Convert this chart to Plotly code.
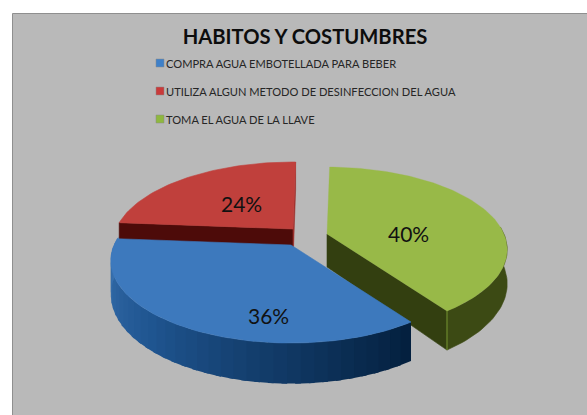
import math
import plotly.graph_objects as go

# Survey results
title = "HABITOS Y COSTUMBRES"
categories = [
    "COMPRA AGUA EMBOTELLADA PARA BEBER",
    "UTILIZA ALGUN METODO DE DESINFECCION DEL AGUA",
    "TOMA EL AGUA DE LA LLAVE",
]
values = [36, 24, 40]

# Styling per slice
top_colors = ["#3d79bd", "#c0403c", "#98b948"]
legend_colors = ["#3f80c8", "#c93a3a", "#8fb83f"]
wall_colors = ["#1d4f85", "#4d0b09", "#333f10"]
rim_colors = ["#1d4f85", "#4d0b09", "#3c4a14"]
apexes = [(291, 245), (293, 229), (327, 234)]
label_points = [(268, 315), (241, 203), (408, 233)]
legend_rows = [63, 91, 119]

WIDTH, HEIGHT = 587, 415
RX, RY, PERSPECTIVE, DEPTH = 177, 79.6, 0.188, 33
START_ANGLE = 145


def project(apex, angle, radius=1.0, drop=0.0):
    """Map a point of the tilted pie disc to page pixels."""
    t = math.radians(angle)
    u, v = radius * math.sin(t), radius * math.cos(t)
    s = 1 / (1 + PERSPECTIVE * v)
    return apex[0] + RX * u * s, apex[1] - RY * v * s + drop * s


def polygon(points, color, width=0.6):
    xs, ys = zip(*points)
    return go.Scatter(
        x=list(xs) + [xs[0]], y=list(ys) + [ys[0]], mode="lines", fill="toself",
        fillcolor=color, line=dict(color=color, width=width),
        hoverinfo="skip", showlegend=False,
    )


def arc(apex, a0, a1, drop=0.0, step=1.5):
    n = max(2, int(abs(a1 - a0) / step))
    return [project(apex, a0 + (a1 - a0) * i / n, drop=drop) for i in range(n + 1)]


def mix(c0, c1, f):
    a = [int(c0[i:i + 2], 16) for i in (1, 3, 5)]
    b = [int(c1[i:i + 2], 16) for i in (1, 3, 5)]
    return "#%02x%02x%02x" % tuple(round(p + (q - p) * f) for p, q in zip(a, b))


# Slice angle spans follow the values, clockwise from the start angle
spans = []
angle = START_ANGLE
for value in values:
    spans.append((angle, angle + value * 3.6))
    angle += value * 3.6
(blue_a, blue_b), (red_a, red_b), (green_a, green_b) = spans
green_a, green_b = green_a - 360, green_b - 360

fig = go.Figure()

# Red slice: inner walls and top
apex = apexes[1]
fig.add_trace(polygon([project(apex, red_a), apex, (apex[0], apex[1] + DEPTH),
                       project(apex, red_a, drop=DEPTH)], wall_colors[1]))
fig.add_trace(polygon([apex, project(apex, red_b), project(apex, red_b, drop=DEPTH),
                       (apex[0], apex[1] + DEPTH)], "#9c2f2b"))
fig.add_trace(polygon([apex] + arc(apex, red_a, red_b), top_colors[1]))

# Green slice: front part of the rim, cut wall and top
apex = apexes[2]
fig.add_trace(polygon(arc(apex, 85, green_b) + arc(apex, green_b, 85, drop=DEPTH),
                      rim_colors[2]))
fig.add_trace(polygon([apex, project(apex, green_b), project(apex, green_b, drop=DEPTH),
                       (apex[0], apex[1] + DEPTH)], wall_colors[2]))
edge = [project(apex, green_b), project(apex, green_b, drop=DEPTH)]
fig.add_trace(go.Scatter(x=[p[0] for p in edge], y=[p[1] for p in edge], mode="lines",
                         line=dict(color="#6d8a2e", width=1.2), hoverinfo="skip",
                         showlegend=False))
fig.add_trace(polygon([apex] + arc(apex, green_a, green_b), top_colors[2], width=0.3))

# Blue slice: shaded rim built from thin strips, then the top
apex = apexes[0]
strips = 36
for i in range(strips):
    a0 = blue_a + (blue_b - blue_a) * i / strips
    a1 = blue_a + (blue_b - blue_a) * (i + 1) / strips
    f = i / (strips - 1)
    shade = mix("#04203f", "#1f5590", min(1, f / 0.6)) if f < 0.6 else mix("#1f5590", "#3a72b0", (f - 0.6) / 0.4)
    fig.add_trace(polygon([project(apex, a0), project(apex, a1 + 1.5),
                           project(apex, a1 + 1.5, drop=DEPTH), project(apex, a0, drop=DEPTH)],
                          shade, width=0))
fig.add_trace(polygon([apex] + arc(apex, blue_a, blue_b), top_colors[0]))

# Legend swatches
fig.add_trace(go.Scatter(
    x=[160] * len(categories), y=legend_rows, mode="markers",
    marker=dict(symbol="square", size=8, color=legend_colors,
                line=dict(color="#8a8a8a", width=0.5)),
    hoverinfo="skip", showlegend=False,
))

annotations = [
    dict(x=164, y=row, text=name, xanchor="left", yanchor="middle", showarrow=False,
         font=dict(family="Lato", size=11.1, color="#262626"))
    for name, row in zip(categories, legend_rows)
]
annotations += [
    dict(x=pos[0], y=pos[1], text=f"{value}%", xanchor="center", yanchor="middle",
         showarrow=False, font=dict(family="Lato", size=21, color="#111111"))
    for value, pos in zip(values, label_points)
]

fig.update_layout(
    width=WIDTH, height=HEIGHT, margin=dict(l=0, r=0, t=0, b=0),
    paper_bgcolor="white", plot_bgcolor="white", showlegend=False,
    title=dict(text=f"<b>{title}</b>", x=305 / WIDTH, y=1 - 37 / HEIGHT, xanchor="center",
               yanchor="middle", font=dict(family="Lato", size=20.2, color="#0d0d0d")),
    xaxis=dict(range=[0, WIDTH], visible=False, fixedrange=True),
    yaxis=dict(range=[HEIGHT, 0], visible=False, fixedrange=True),
    annotations=annotations,
    shapes=[dict(type="rect", xref="x", yref="y", x0=12.5, y0=13.5, x1=WIDTH + 5, y1=HEIGHT + 5,
                 fillcolor="#b9b9b9", line=dict(color="#8f8f8f", width=1), layer="below")],
)

fig.write_html("out.html", config=dict(displayModeBar=False))
